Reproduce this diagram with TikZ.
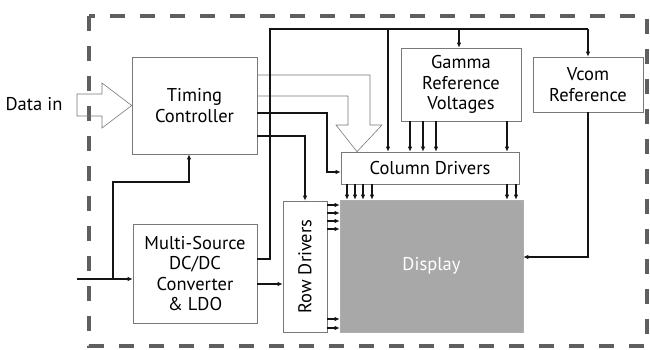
\documentclass[tikz,border=0pt]{standalone}
\usepackage{fontspec}
\setmainfont{PT Sans}
\usepackage{xcolor}
\usetikzlibrary{
  arrows.meta,
  positioning,
  calc
}
\definecolor{BoxGray}{RGB}{120,120,120}
\definecolor{DashGray}{RGB}{95,95,95}
\definecolor{PanelGray}{RGB}{168,168,168}
\definecolor{InkBlack}{RGB}{20,20,20}
\tikzset{
  %%── 功能块 ─────────────────────────────────────────
  blk/.style = {
    rectangle, draw = BoxGray, line width = 0.6pt,
    inner sep = 0pt, align = center,
    font = \fontsize{18.5}{20.5}\selectfont
  },
  panel/.style = {
    rectangle, draw = BoxGray!60, fill = PanelGray, line width = 0.6pt,
    inner sep = 0pt, text = white,
    font = \fontsize{18.5}{20.5}\selectfont
  },
  %%── 外框与空心总线 ─────────────────────────────────
  frame/.style = {draw = DashGray, line width = 3.5pt, dash pattern = on 15pt off 15pt},
  bus/.style   = {draw = BoxGray, line width = 0.6pt, line join = miter},
  %%── 连线 ───────────────────────────────────────────
  ln/.style  = {line width = 1.3pt, color = InkBlack},
  arr/.style = {-{Latex[length=5pt,width=4.5pt]}, line width = 1.3pt, color = InkBlack},
}
\begin{document}
\begin{tikzpicture}[x = 1pt, y = -1pt]

  \useasboundingbox (0,0) rectangle (650,349);
  \draw[frame] (89,16) rectangle (647,346);

  %% ── 左侧：时序控制与电源 ─────────────────────────
  \node[blk, minimum width = 125pt, minimum height = 97pt] (tc) at (194.5,105.5) {Timing\\Controller};
  \node[blk, minimum width = 124pt, minimum height = 99pt] (dc) at (195,273.5) {Multi-Source\\DC/DC\\Converter\\\& LDO};
  \node[font = \fontsize{18.5}{20.5}\selectfont] (din) at (34,104) {Data in};

  %% ── 右侧：参考电压与驱动 ─────────────────────────
  \node[blk, minimum width = 120pt, minimum height = 73pt] (gam)  at (461,84.5) {Gamma\\Reference\\Voltages};
  \node[blk, minimum width = 110pt, minimum height = 55pt] (vcom) at (588,84.5) {Vcom\\Reference};
  \node[blk, minimum width = 178pt, minimum height = 32pt] (col)  at (430,168) {Column Drivers};
  \node[blk, minimum width = 44pt, minimum height = 131pt] (row)  at (305,266.5) {};
  \node[font = \fontsize{18.5}{20.5}\selectfont, rotate = 90] at (row.center) {Row Drivers};
  \node[panel, minimum width = 183pt, minimum height = 132pt] (disp) at (431.5,266) {Display};

  %% ── 空心箭头：数据输入、数据总线 ─────────────────
  \draw[bus] (77,94) -- (102,94) -- (102,83) -- (tc.west) -- (102,128) -- (102,116) -- (77,116) -- cycle;
  \draw[bus] (tc.east |- 0,75) -- (370,75) -- (370,125) -- (382,125) -- (357,0 |- col.north)
             -- (336,125) -- (348,125) -- (348,96) -- (tc.east |- 0,96);

  %% ── 控制信号 ─────────────────────────────────────
  \draw[arr] (tc.east |- 0,113) -| (327,172) -- (col.west |- 0,172);
  \draw[arr] (tc.east |- 0,136) -| (row.north);

  %% ── 电源分配 ─────────────────────────────────────
  \coordinate (in) at (77,279);
  \coordinate (br) at (113,279);
  \draw[arr] (in) -- (dc.west |- in);
  \draw[arr] (br) |- (189,182) -- (189,0 |- tc.south);
  \draw[arr] (dc.east |- 0,284) -- (row.west |- 0,284);
  \draw[ln]  (dc.east |- 0,259) -| (270,29) -- (vcom.north |- 0,29);
  \draw[arr] (388,29) -- (388,0 |- col.north);
  \draw[arr] (459,29) -- (459,0 |- gam.north);
  \draw[arr] (vcom.north |- 0,29) -- (vcom.north);

  %% ── 参考电压 → 驱动 → 显示 ───────────────────────
  \foreach \x in {410,423,436,507}
    \draw[arr] (\x,0 |- gam.south) -- (\x,0 |- col.north);
  \foreach \x in {347,355,363,372,507,516}
    \draw[arr] (\x,0 |- col.south) -- (\x,0 |- disp.north);
  \foreach \y in {205,213,221,229,319,328}
    \draw[arr] (row.east |- 0,\y) -- (disp.west |- 0,\y);
  \draw[arr] (vcom.south) |- (disp.east |- 0,257);

\end{tikzpicture}
\end{document}
